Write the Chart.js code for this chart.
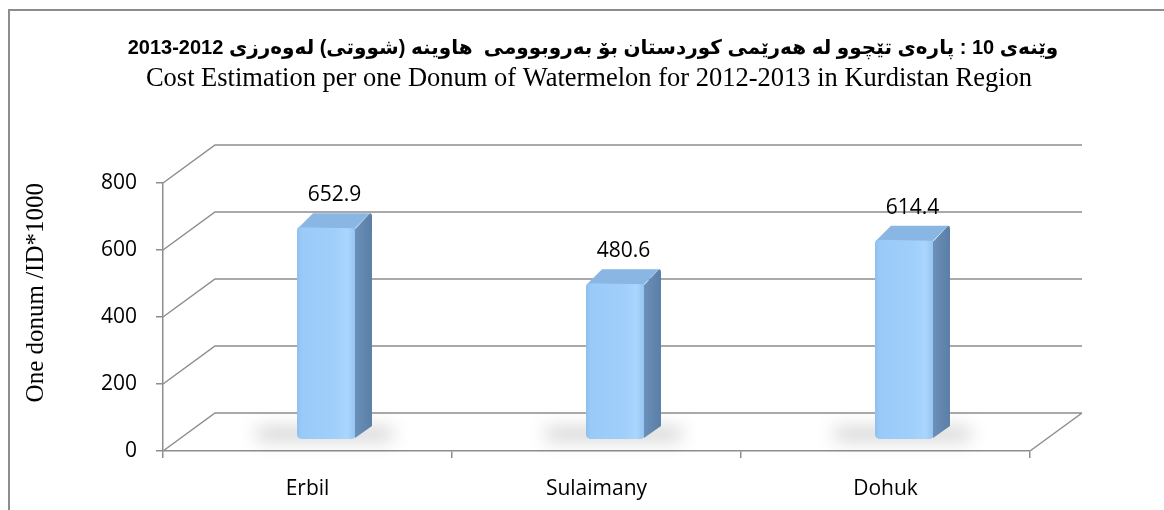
<!DOCTYPE html>
<html>
<head>
<meta charset="utf-8">
<script src="https://cdn.jsdelivr.net/npm/chart.js@4.4.1/dist/chart.umd.min.js"></script>
<style>
  html, body { margin: 0; padding: 0; background: #fff; overflow: hidden; }
  #wrap { position: relative; width: 1164px; height: 510px; }
  #frame { position: absolute; left: 8px; top: 9px; width: 1300px; height: 700px; border: 2px solid #8d8d8d; }
  canvas { position: absolute; left: 0; top: 0; }
</style>
</head>
<body>
<div id="wrap">
  <div id="frame"></div>
  <canvas id="chart" width="1164" height="510"></canvas>
</div>
<script>
const categories = ['Erbil', 'Sulaimany', 'Dohuk'];
const costValues = [652.9, 480.6, 614.4];
const yTicks = [0, 200, 400, 600, 800];
const titleKu = 'وێنەی 10 : پارەی تێچوو لە هەرێمی کوردستان بۆ بەروبوومی  هاوینە (شووتی) لەوەرزی 2012-2013';
const titleEn = 'Cost Estimation per one Donum of Watermelon for 2012-2013 in Kurdistan Region';
const yTitle = 'One donum /ID*1000';

const LINE = '#8d8d8d';
// back wall offset, bar depth offset, bar side thickness
const WALL_DX = 52, WALL_DY = -38;
const BAR_DX = 19, BAR_DY = -12;
const SIDE_DX = 16, SIDE_DY = -13;

const box3d = {
  id: 'box3d',
  beforeDraw(chart) {
    const ctx = chart.ctx;
    ctx.save();
    ctx.fillStyle = '#000';
    ctx.textAlign = 'center';
    ctx.textBaseline = 'middle';
    ctx.direction = 'rtl';
    ctx.font = 'bold 20px "Liberation Sans", "DejaVu Sans"';
    ctx.fillText(titleKu, 593, 48);
    ctx.direction = 'ltr';
    ctx.font = '26.5px "Liberation Serif"';
    ctx.fillText(titleEn, 589, 79);
    ctx.restore();
  },
  beforeDatasetsDraw(chart) {
    const { ctx, chartArea: a, scales: { y } } = chart;
    ctx.save();
    ctx.strokeStyle = LINE;
    ctx.lineWidth = 1.5;
    ctx.beginPath();
    yTicks.forEach(v => {
      const py = y.getPixelForValue(v);
      ctx.moveTo(a.left, py);
      ctx.lineTo(a.left + WALL_DX, py + WALL_DY);
      ctx.lineTo(a.right + WALL_DX, py + WALL_DY);
    });
    ctx.moveTo(a.right, a.bottom);
    ctx.lineTo(a.right + WALL_DX, a.bottom + WALL_DY);
    ctx.stroke();
    ctx.restore();

    ctx.save();
    ctx.translate(BAR_DX, BAR_DY);
    // floor shadows
    const meta = chart.getDatasetMeta(0);
    meta.data.forEach(bar => {
      const p = bar.getProps(['x', 'base', 'width'], true);
      ctx.save();
      ctx.filter = 'blur(9px)';
      ctx.fillStyle = 'rgba(0,0,0,0.2)';
      ctx.fillRect(p.x - p.width / 2 - 40, p.base - 11, p.width + SIDE_DX + 60, 12);
      ctx.restore();
    });
  },
  afterDatasetsDraw(chart) {
    const ctx = chart.ctx;
    const meta = chart.getDatasetMeta(0);
    meta.data.forEach((bar, i) => {
      const p = bar.getProps(['x', 'y', 'base', 'width'], true);
      const l = p.x - p.width / 2, r = p.x + p.width / 2;
      const t = p.y, b = p.base;

      // front face
      const g = ctx.createLinearGradient(l, 0, r, 0);
      g.addColorStop(0, '#8fbfee');
      g.addColorStop(0.08, '#9acaf8');
      g.addColorStop(0.65, '#a0cffb');
      g.addColorStop(0.85, '#aad6fe');
      g.addColorStop(1, '#95c3f0');
      ctx.fillStyle = g;
      ctx.beginPath();
      ctx.roundRect(l, t, p.width, b - t, 5);
      ctx.fill();

      // side face
      const gs = ctx.createLinearGradient(r, 0, r + SIDE_DX, 0);
      gs.addColorStop(0, '#6a8fb8');
      gs.addColorStop(1, '#5a7ea5');
      ctx.fillStyle = gs;
      ctx.beginPath();
      ctx.moveTo(r - 1, t + 3);
      ctx.lineTo(r + SIDE_DX - 2, t + SIDE_DY);
      ctx.quadraticCurveTo(r + SIDE_DX, t + SIDE_DY, r + SIDE_DX, t + SIDE_DY + 3);
      ctx.lineTo(r + SIDE_DX, b + SIDE_DY);
      ctx.lineTo(r - 1, b - 1);
      ctx.closePath();
      ctx.fill();

      // top face
      ctx.fillStyle = '#89b6e3';
      ctx.beginPath();
      ctx.moveTo(l + 2, t + 1);
      ctx.lineTo(l + SIDE_DX, t + SIDE_DY);
      ctx.lineTo(r + SIDE_DX - 2, t + SIDE_DY);
      ctx.lineTo(r - 1, t + 2);
      ctx.closePath();
      ctx.fill();

      // value label
      ctx.fillStyle = '#000';
      ctx.font = '21px "Open Sans"';
      ctx.textAlign = 'center';
      ctx.textBaseline = 'middle';
      ctx.fillText(String(costValues[i]), p.x + SIDE_DX / 2, t - 31);
    });
    ctx.restore();
  }
};

new Chart(document.getElementById('chart'), {
  type: 'bar',
  data: {
    labels: categories,
    datasets: [{
      data: costValues,
      yAxisID: 'yBar',
      backgroundColor: '#9ccbf8',
      borderRadius: 5,
      borderSkipped: false,
      categoryPercentage: 1,
      barPercentage: 0.204,
      clip: false
    }]
  },
  options: {
    responsive: false,
    animation: false,
    devicePixelRatio: 1,
    layout: { padding: { top: 183, right: 134, bottom: 0, left: 0 } },
    plugins: { legend: { display: false }, tooltip: { enabled: false } },
    scales: {
      x: {
        grid: { drawOnChartArea: false, tickLength: 7, color: LINE, lineWidth: 1.5 },
        border: { color: LINE, width: 1.5 },
        ticks: { color: '#000', font: { family: 'Open Sans', size: 21 }, padding: 18 },
        afterFit(scale) { scale.height = 59; }
      },
      y: {
        min: 0,
        max: 800,
        grid: { drawOnChartArea: false, tickLength: 7, color: LINE, lineWidth: 1.5 },
        border: { color: LINE, width: 1.5 },
        ticks: { stepSize: 200, color: '#000', font: { family: 'Open Sans', size: 21 }, padding: 19 },
        title: {
          display: true,
          text: yTitle,
          align: 'end',
          color: '#000',
          font: { family: 'Liberation Serif', size: 25 },
          padding: { top: 21, bottom: 0 }
        },
        afterFit(scale) { scale.width = 163; }
      },
      // bars stand half way back, where perspective makes them a little shorter
      yBar: { display: false, min: 0, max: 822 }
    }
  },
  plugins: [box3d]
});
</script>
</body>
</html>
